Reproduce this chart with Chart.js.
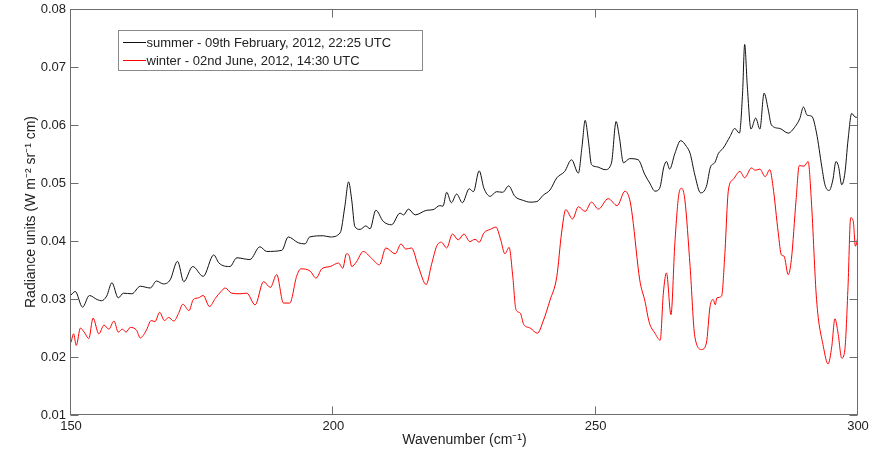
<!DOCTYPE html>
<html>
<head>
<meta charset="utf-8">
<script src="https://cdn.jsdelivr.net/npm/chart.js@4"></script>
<style>
  html, body { margin: 0; padding: 0; background: #fff; }
  #wrap { width: 872px; height: 449px; position: relative; }
</style>
</head>
<body>
<div id="wrap"><canvas id="c" width="872" height="449"></canvas></div>
<script>
// ---------- data ----------
const seriesLabels = [
  'summer - 09th February, 2012, 22:25 UTC',
  'winter - 02nd June, 2012, 14:30 UTC'
];
const xTickValues = [150, 200, 250, 300];
const yTickValues = [0.01, 0.02, 0.03, 0.04, 0.05, 0.06, 0.07, 0.08];
const yTickLabels = ['0.01', '0.02', '0.03', '0.04', '0.05', '0.06', '0.07', '0.08'];

const summerX = [150.0,150.8,152.2,153.5,155.0,155.8,156.8,157.8,159.0,160.0,161.6,163.2,165.1,166.3,167.6,168.9,
  170.3,171.5,173.2,175.2,177.2,178.2,180.3,181.6,184.1,186.0,187.3,190.2,191.4,193.3,194.6,195.5,198.1,199.4,
  201.3,202.2,202.9,203.5,204.1,205.1,206.2,207.0,208.1,209.5,211.1,212.7,213.4,214.3,215.6,217.8,219.0,220.3,
  220.9,221.6,222.5,223.5,224.6,225.9,226.7,227.8,228.7,229.9,231.1,232.3,233.4,234.6,236.2,237.5,238.8,240.0,
  241.3,242.6,244.1,245.4,246.7,247.4,248.0,248.6,249.2,250.2,251.8,253.0,253.9,254.5,255.3,256.5,258.1,259.4,
  260.3,261.3,262.2,263.0,263.5,264.1,265.1,266.2,267.3,268.0,268.9,270.0,271.1,271.9,272.7,273.4,274.3,275.6,
  276.5,277.4,278.0,278.4,278.9,279.6,280.5,281.3,282.1,282.9,283.5,285.1,286.7,288.0,288.9,289.6,290.3,291.2,
  292.1,293.1,293.7,294.5,295.2,295.8,296.3,296.9,297.5,298.1,298.8,299.4,300.0];
const summerY = [0.0307,0.0313,0.0286,0.0306,0.0299,0.0297,0.0305,0.0328,0.0302,0.0310,0.0309,0.0322,0.0319,0.0331,0.0326,0.0333,
  0.0365,0.0330,0.0356,0.0339,0.0376,0.0362,0.0356,0.0371,0.0368,0.0390,0.0382,0.0384,0.0407,0.0397,0.0395,0.0407,0.0409,0.0407,
  0.0414,0.0460,0.0502,0.0471,0.0425,0.0420,0.0426,0.0421,0.0453,0.0434,0.0428,0.0448,0.0445,0.0455,0.0445,0.0453,0.0454,0.0461,
  0.0460,0.0484,0.0466,0.0481,0.0466,0.0490,0.0485,0.0521,0.0491,0.0477,0.0485,0.0484,0.0495,0.0477,0.0470,0.0467,0.0468,0.0479,
  0.0488,0.0509,0.0520,0.0540,0.0517,0.0563,0.0608,0.0574,0.0532,0.0528,0.0523,0.0534,0.0606,0.0580,0.0535,0.0542,0.0540,0.0514,
  0.0500,0.0486,0.0491,0.0528,0.0537,0.0524,0.0551,0.0573,0.0563,0.0551,0.0514,0.0483,0.0494,0.0528,0.0535,0.0551,0.0560,0.0580,
  0.0594,0.0586,0.0655,0.0739,0.0667,0.0593,0.0612,0.0593,0.0655,0.0626,0.0600,0.0594,0.0586,0.0597,0.0611,0.0631,0.0617,0.0615,
  0.0586,0.0528,0.0497,0.0487,0.0505,0.0537,0.0528,0.0497,0.0517,0.0574,0.0620,0.0614,0.0613];

const winterX = [150.0,150.5,151.0,151.8,152.5,153.4,154.2,155.3,156.3,157.2,158.2,159.0,159.8,160.5,161.3,162.5,163.2,164.3,
  165.3,166.0,166.9,167.8,168.6,169.6,170.5,171.3,172.5,173.3,174.3,175.2,176.4,177.5,178.6,179.4,180.6,182.2,183.5,
  185.1,186.7,188.0,189.2,190.5,191.7,193.0,193.8,195.6,196.7,197.8,199.4,201.0,201.8,202.5,203.0,203.5,204.4,205.7,
  207.3,208.8,210.0,211.8,212.9,213.8,214.9,216.2,217.7,218.7,219.7,220.6,221.6,222.7,223.8,224.9,226.0,227.0,227.8,
  228.7,229.9,231.0,231.9,232.7,233.5,234.2,234.8,235.6,236.3,237.5,238.9,240.0,241.3,242.6,243.5,244.3,245.6,246.7,
  248.0,249.2,250.5,252.4,254.1,255.6,256.5,257.0,258.4,259.4,260.2,261.3,262.3,262.9,263.5,264.35,265.1,265.9,266.4,
  267.0,268.0,268.9,270.2,271.1,271.8,272.4,272.8,273.1,274.0,274.6,275.3,276.2,277.5,278.4,279.7,280.4,281.3,282.3,
  283.2,283.8,284.8,285.4,285.9,286.7,287.3,288.2,288.8,289.7,290.5,291.1,292.1,293.4,294.3,295.0,295.6,296.2,296.9,
  297.5,298.1,298.6,299.1,299.5,300.0];
const winterY = [0.0225,0.0240,0.0220,0.0250,0.0243,0.0232,0.0267,0.0240,0.0255,0.0248,0.0262,0.0243,0.0248,0.0243,0.0251,0.0246,0.0233,0.0245,
  0.0263,0.0261,0.0277,0.0263,0.0268,0.0262,0.0275,0.0291,0.0280,0.0299,0.0302,0.0306,0.0287,0.0301,0.0313,0.0319,0.0310,0.0309,0.0310,
  0.0290,0.0330,0.0320,0.0342,0.0293,0.0293,0.0339,0.0352,0.0348,0.0336,0.0352,0.0356,0.0362,0.0353,0.0378,0.0375,0.0356,0.0364,0.0382,
  0.0370,0.0359,0.0388,0.0378,0.0395,0.0386,0.0388,0.0356,0.0325,0.0359,0.0391,0.0398,0.0388,0.0412,0.0402,0.0412,0.0399,0.0403,0.0398,
  0.0414,0.0420,0.0424,0.0402,0.0378,0.0389,0.0339,0.0282,0.0276,0.0256,0.0250,0.0241,0.0262,0.0298,0.0339,0.0414,0.0454,0.0438,0.0459,
  0.0451,0.0467,0.0455,0.0473,0.0461,0.0486,0.0471,0.0443,0.0333,0.0296,0.0260,0.0241,0.0229,0.0310,0.0345,0.0273,0.0397,0.0483,0.0491,
  0.0471,0.0356,0.0235,0.0213,0.0224,0.0287,0.0299,0.0290,0.0302,0.0305,0.0374,0.0488,0.0506,0.0520,0.0509,0.0526,0.0522,0.0524,0.0511,
  0.0523,0.0494,0.0414,0.0376,0.0374,0.0342,0.0368,0.0471,0.0530,0.0529,0.0537,0.0471,0.0299,0.0218,0.0188,0.0218,0.0266,0.0241,0.0198,
  0.0213,0.0322,0.0440,0.0434,0.0391,0.0408];

const seriesColors = ['#111111', '#ff0000'];

// ---------- plugins ----------
const FONT = '"Liberation Sans", Arial, sans-serif';

const framePlugin = {
  id: 'frame',
  afterDatasetsDraw(chart) {
    const { ctx, chartArea: a, scales: { x, y } } = chart;
    const L = Math.round(a.left) - 0.5, R = Math.round(a.right) - 0.5;
    const T = Math.round(a.top) + 0.5, B = Math.round(a.bottom) - 0.5;
    ctx.save();
    ctx.strokeStyle = '#6e6e6e';
    ctx.lineWidth = 1;
    ctx.strokeRect(L, T, R - L, B - T);
    const tl = 8;
    ctx.beginPath();
    xTickValues.forEach(v => {
      const px = Math.round(x.getPixelForValue(v)) - 0.5;
      ctx.moveTo(px, B); ctx.lineTo(px, B - tl);
      ctx.moveTo(px, T); ctx.lineTo(px, T + tl);
    });
    yTickValues.forEach(v => {
      const py = Math.round(y.getPixelForValue(v)) + 0.5;
      ctx.moveTo(L, py); ctx.lineTo(L + tl, py);
      ctx.moveTo(R, py); ctx.lineTo(R - tl, py);
    });
    ctx.stroke();
    ctx.restore();
  }
};

const boxLegendPlugin = {
  id: 'boxLegend',
  afterDraw(chart) {
    const { ctx } = chart;
    const bx = 118.5, by = 30.5, bw = 304, bh = 40;
    ctx.save();
    ctx.fillStyle = '#ffffff';
    ctx.fillRect(bx, by, bw, bh);
    ctx.strokeStyle = '#8a8a8a';
    ctx.lineWidth = 1;
    ctx.strokeRect(bx, by, bw, bh);
    ctx.font = '13px ' + FONT;
    ctx.textBaseline = 'middle';
    chart.data.datasets.forEach((ds, i) => {
      const yy = 42.5 + i * 18;
      ctx.strokeStyle = ds.borderColor;
      ctx.beginPath();
      ctx.moveTo(123, yy); ctx.lineTo(146, yy);
      ctx.stroke();
      ctx.fillStyle = '#222';
      ctx.fillText(ds.label, 146.5, yy + 0.5);
    });
    ctx.restore();
  }
};

// ---------- chart ----------
new Chart(document.getElementById('c'), {
  type: 'line',
  data: {
    datasets: [
      {
        label: seriesLabels[0],
        data: summerX.map((v, i) => ({ x: v, y: summerY[i] })),
        borderColor: seriesColors[0],
        borderWidth: 1,
        pointRadius: 0,
        cubicInterpolationMode: 'monotone',
        fill: false
      },
      {
        label: seriesLabels[1],
        data: winterX.map((v, i) => ({ x: v, y: winterY[i] })),
        borderColor: seriesColors[1],
        borderWidth: 1,
        pointRadius: 0,
        cubicInterpolationMode: 'monotone',
        fill: false
      }
    ]
  },
  options: {
    responsive: false,
    animation: false,
    devicePixelRatio: 1,
    layout: { padding: { left: 0, right: 14, top: 9, bottom: 0 } },
    plugins: {
      legend: { display: false },
      tooltip: { enabled: false }
    },
    scales: {
      x: {
        type: 'linear',
        min: 150, max: 300,
        afterBuildTicks: s => { s.ticks = xTickValues.map(v => ({ value: v })); },
        afterFit: s => { s.height = 34; s.paddingLeft = 0; s.paddingRight = 0; },
        grid: { display: false, drawTicks: false },
        border: { display: false },
        ticks: {
          padding: 4,
          color: '#222',
          font: { family: FONT, size: 13 },
          maxRotation: 0,
          callback: v => String(v)
        },
        title: {
          display: true,
          text: 'Wavenumber (cm\u207B\u00B9)',
          color: '#222',
          font: { family: FONT, size: 14 },
          padding: { top: 0, bottom: 0 }
        }
      },
      y: {
        min: 0.01, max: 0.08,
        afterBuildTicks: s => { s.ticks = yTickValues.map(v => ({ value: v })); },
        afterFit: s => { s.width = 71; s.paddingTop = 0; s.paddingBottom = 0; },
        grid: { display: false, drawTicks: false },
        border: { display: false },
        ticks: {
          padding: 5,
          color: '#222',
          font: { family: FONT, size: 13 },
          callback: (v) => {
            const i = yTickValues.findIndex(t => Math.abs(t - v) < 1e-9);
            return i >= 0 ? yTickLabels[i] : '';
          }
        },
        title: {
          display: true,
          text: 'Radiance units (W m\u207B\u00B2 sr\u207B\u00B9 cm)',
          color: '#222',
          font: { family: FONT, size: 14 },
          padding: { top: 23, bottom: 0 }
        }
      }
    }
  },
  plugins: [framePlugin, boxLegendPlugin]
});
</script>
</body>
</html>
